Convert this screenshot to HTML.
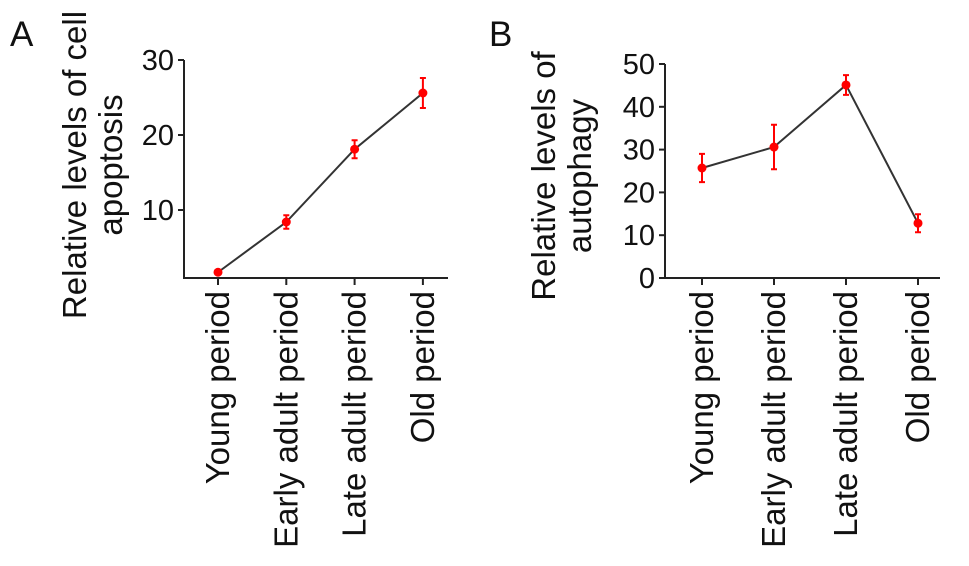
<!DOCTYPE html>
<html><head><meta charset="utf-8"><style>
html,body{margin:0;padding:0;background:#fff;}
svg{display:block;font-family:"Liberation Sans",Arial,sans-serif;}
</style></head><body>
<svg id="chart" width="969" height="566" viewBox="0 0 969 566">
<text x="10" y="46" font-size="35" fill="#111">A</text>
<text x="489" y="46" font-size="35" fill="#111">B</text>
<g id="pa"></g>
<g id="pb"></g>
</svg>
<script>
const categories = ["Young period","Early adult period","Late adult period","Old period"];
const apoptosisValues = [1.7, 8.4, 18.1, 25.6];
const apoptosisErrors = [0.3, 0.9, 1.2, 2.0];
const apoptosisTicks = [10, 20, 30];
const autophagyValues = [25.7, 30.6, 45.1, 12.8];
const autophagyErrors = [3.3, 5.2, 2.3, 2.1];
const autophagyTicks = [0, 10, 20, 30, 40, 50];

const NS = "http://www.w3.org/2000/svg";
function mk(parent, tag, attrs){const e=document.createElementNS(NS,tag);for(const k in attrs)e.setAttribute(k,attrs[k]);parent.appendChild(e);return e;}

function panel(g, cfg){
  const y = v => cfg.y0 - (v - cfg.vmin) * (cfg.y0 - cfg.y1) / (cfg.vmax - cfg.vmin);
  const x = i => cfg.xs + i * cfg.xstep;
  let ax = mk(g,"path",{d:`M${cfg.ax},${y(cfg.vmax)} V${cfg.axisBottom} H${cfg.axEnd}`,fill:"none",stroke:"#222","stroke-width":2});
  
  
  cfg.ticks.forEach(t=>{
    let tk = mk(g,"line",{x1:cfg.ax-6,x2:cfg.ax,y1:y(t),y2:y(t),stroke:"#222","stroke-width":2});
    
    
    let tl = mk(g,"text",{x:cfg.ax-10,y:y(t)+10,"text-anchor":"end","font-size":29,fill:"#111"});
    tl.textContent = t;
    
    
  });
  categories.forEach((c,i)=>{
    let tk = mk(g,"line",{x1:x(i),x2:x(i),y1:cfg.axisBottom,y2:cfg.axisBottom+7,stroke:"#222","stroke-width":2});
    
    
    let tl = mk(g,"text",{transform:`translate(${x(i)+11},${cfg.axisBottom+13}) rotate(-90)`,"text-anchor":"end","font-size":33,fill:"#111"});
    tl.textContent = c;
    
    
  });
  let d = cfg.vals.map((v,i)=>(i?"L":"M")+x(i)+","+y(v)).join(" ");
  let ln = mk(g,"path",{d:d,fill:"none",stroke:"#333","stroke-width":2});
  
  
  cfg.vals.forEach((v,i)=>{
    const e = cfg.errs[i];
    let eb = mk(g,"path",{d:`M${x(i)},${y(v+e)} V${y(v-e)} M${x(i)-3},${y(v+e)} H${x(i)+3} M${x(i)-3},${y(v-e)} H${x(i)+3}`,stroke:"#f00","stroke-width":2,fill:"none"});
    
    
    let pt = mk(g,"circle",{cx:x(i),cy:y(v),r:4.5,fill:"#f00"});
    
    
  });
  cfg.title.forEach((t,k)=>{
    let tt = mk(g,"text",{transform:`translate(${cfg.tx+k*36},${cfg.ty}) rotate(-90)`,"text-anchor":"middle","font-size":33,fill:"#111"});
    tt.textContent = t;
    
    
  });
}
panel(document.getElementById("pa"),{p:"panel-a",vals:apoptosisValues,errs:apoptosisErrors,ticks:apoptosisTicks,
  vmin:0,vmax:30,y0:285,y1:60,axisBottom:278,ax:184,axEnd:448,xs:218,xstep:68.3,
  title:["Relative levels of cell","apoptosis"],tx:86,ty:165});
panel(document.getElementById("pb"),{p:"panel-b",vals:autophagyValues,errs:autophagyErrors,ticks:autophagyTicks,
  vmin:0,vmax:50,y0:278,y1:64,axisBottom:278,ax:665,axEnd:940,xs:702,xstep:72,
  title:["Relative levels of","autophagy"],tx:555,ty:176});
</script>
</body></html>
